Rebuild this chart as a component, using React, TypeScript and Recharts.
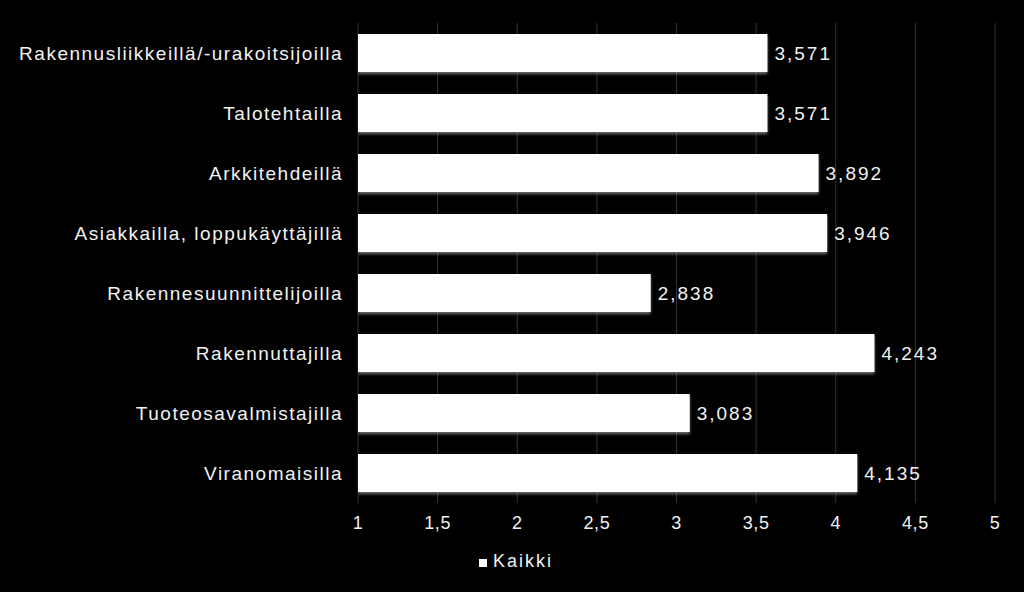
import React from 'react';
import { BarChart, Bar, XAxis, YAxis, CartesianGrid, LabelList, Legend } from 'recharts';

const categories = [
  'Rakennusliikkeillä/-urakoitsijoilla',
  'Talotehtailla',
  'Arkkitehdeillä',
  'Asiakkailla, loppukäyttäjillä',
  'Rakennesuunnittelijoilla',
  'Rakennuttajilla',
  'Tuoteosavalmistajilla',
  'Viranomaisilla',
];
const kaikki = [3.571, 3.571, 3.892, 3.946, 2.838, 4.243, 3.083, 4.135];
const xTicks = [1, 1.5, 2, 2.5, 3, 3.5, 4, 4.5, 5];

const data = categories.map((name, i) => ({ name, value: kaikki[i] }));

const fi = (v: number) => String(v).replace('.', ',');

export default function App() {
  return (
    <div
      style={{
        position: 'fixed',
        left: 0,
        top: 0,
        width: 1024,
        height: 592,
        background: '#000',
        fontFamily: '"Liberation Sans", Arial, sans-serif',
      }}
    >
      <BarChart
        width={1024}
        height={592}
        data={data}
        layout="vertical"
        margin={{ top: 23, right: 29, left: 0, bottom: 49 }}
      >
        <defs>
          <filter id="barShadow" x="-5%" y="-20%" width="110%" height="150%">
            <feDropShadow dx="0" dy="2" stdDeviation="1.5" floodColor="#888" floodOpacity="0.8" />
          </filter>
        </defs>
        <CartesianGrid horizontal={false} stroke="#333" />
        <XAxis
          type="number"
          domain={[1, 5]}
          ticks={xTicks}
          tickFormatter={fi}
          axisLine={false}
          tickLine={false}
          tickSize={0}
          tickMargin={13}
          height={40}
          tick={{ fill: '#f2f2f2', fontSize: 18, letterSpacing: 0.6 }}
          allowDataOverflow
        />
        <YAxis
          type="category"
          dataKey="name"
          width={358}
          axisLine={false}
          tickLine={false}
          tickSize={0}
          tickMargin={15}
          tick={{ fill: '#f2f2f2', fontSize: 19, letterSpacing: 1.5 }}
          interval={0}
        />
        <Legend
          layout="horizontal"
          verticalAlign="middle"
          align="center"
          iconType="square"
          iconSize={8}
          wrapperStyle={{ top: 551, left: 9, width: 1024 }}
          formatter={(value) => (
            <span style={{ color: '#f2f2f2', fontSize: 18, letterSpacing: 2, marginLeft: 2 }}>{value}</span>
          )}
        />
        <Bar
          dataKey="value"
          name="Kaikki"
          fill="#ffffff"
          barSize={38}
          filter="url(#barShadow)"
          isAnimationActive={false}
        >
          <LabelList
            dataKey="value"
            position="right"
            offset={7}
            formatter={(v: number) => v.toFixed(3).replace('.', ',')}
            style={{ fill: '#f2f2f2', fontSize: 19, letterSpacing: 2 }}
          />
        </Bar>
      </BarChart>
    </div>
  );
}
